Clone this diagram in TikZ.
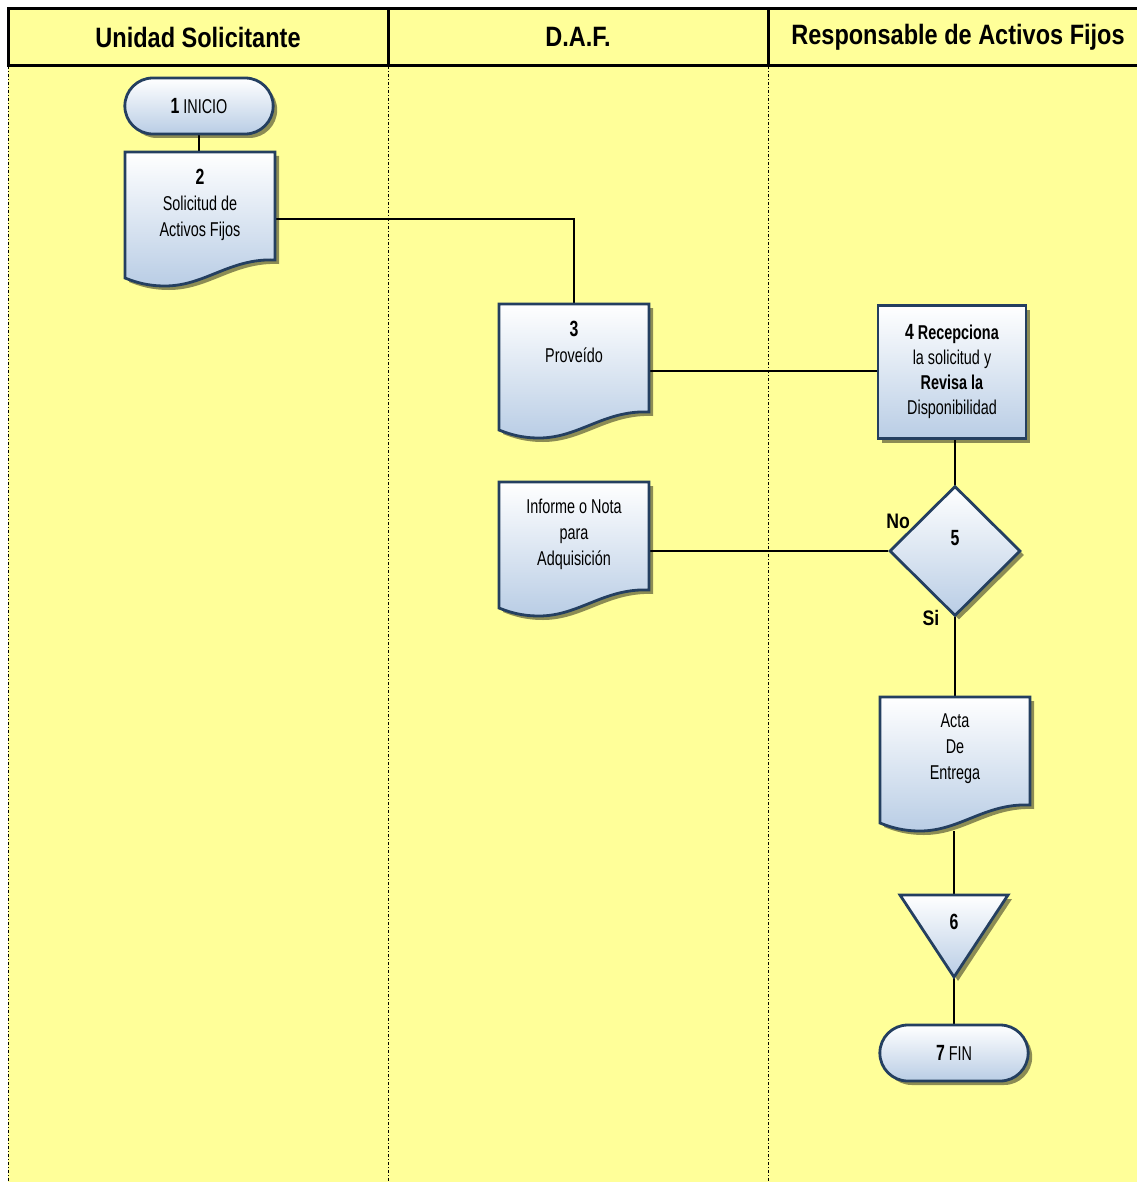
\documentclass[tikz,border=0pt]{standalone}
\usepackage{fontspec}
\setmainfont{Liberation Sans}
\newfontfamily\lanefont[FakeStretch=0.84]{Liberation Sans}
\newfontfamily\stepfont[FakeStretch=0.72]{Liberation Sans}
\usetikzlibrary{shapes.geometric,shapes.misc,shadows}
\definecolor{Lane}{HTML}{FFFF99}
\definecolor{Navy}{HTML}{243F60}
\definecolor{Pale}{HTML}{B9CDE5}
\colorlet{stepLine}{Navy}
\colorlet{stepBottom}{Pale}
\pgfdeclarelayer{lanes}
\pgfdeclarelayer{links}
\pgfdeclarelayer{shapes}
\pgfsetlayers{lanes,links,shapes,main}

% step numbers are set a bit bigger and in bold
\newcommand\stepno[1]{{\fontsize{22}{26}\selectfont\bfseries #1}}
% text of a document symbol, hung from its top edge
\newcommand\doclines[1]{\parbox[c][134pt][t]{150pt}{\centering\vspace*{17pt}#1}}
% document symbol with a wavy bottom, #1,#2 = top left corner
\newcommand\docshape[2]{%
 \begin{pgfonlayer}{shapes}
 \begin{scope}[shift={(#1,#2)}]
  \path[face] (0,0) -- (150,0) -- (150,108)
   .. controls (105,106) and (80,134) .. (40,134)
   .. controls (22,134) and (10,130) .. (0,126) -- cycle;
 \end{scope}
 \end{pgfonlayer}}

\begin{document}
\begin{tikzpicture}[x=1pt,y=-1pt,
 face/.style={draw=stepLine,line width=2.8pt,top color=white,bottom color=stepBottom,
   drop shadow={shadow xshift=4pt,shadow yshift=-4pt,fill=black,opacity=.45}},
 terminal/.style={face,rounded rectangle,minimum width=155pt,minimum height=56pt,
   font=\stepfont\fontsize{20}{26}\selectfont},
 process/.style={face,rectangle,minimum width=148pt,minimum height=133pt,align=center,
   inner sep=0pt,font=\stepfont\fontsize{20}{25}\selectfont},
 decision/.style={face,diamond,minimum width=131pt,minimum height=130pt,inner sep=0pt,
   font=\stepfont\fontsize{20}{26}\selectfont},
 doctext/.style={inner sep=0pt,font=\stepfont\fontsize{20}{26}\selectfont},
 mergetext/.style={inner sep=0pt,minimum width=108pt,minimum height=82pt,
   font=\stepfont\fontsize{20}{26}\selectfont},
 lanehead/.style={font=\lanefont\bfseries\fontsize{28}{30}\selectfont},
 branch/.style={font=\lanefont\bfseries\fontsize{21}{24}\selectfont,inner sep=0pt},
 headline/.style={line width=3pt,black},
 lanesep/.style={line width=1pt,black,dash dot},
 link/.style={line width=2.4pt,black}]
 \useasboundingbox (0,0) rectangle (1136,1182);

 % swimlanes
 \begin{pgfonlayer}{lanes}
 \fill[Lane] (8,9) rectangle (1150,1190);
 \foreach \x in {8,388,768}
  \draw[lanesep] (\x,66) -- (\x,1190);
 \draw[headline] (8,9) rectangle (1150,66);
 \draw[headline] (388,9) -- (388,66) (768,9) -- (768,66);
 \end{pgfonlayer}
 \node[lanehead] (us) at (198,37) {Unidad Solicitante};
 \node[lanehead] (daf) at (578,37) {D.A.F.};
 \node[lanehead] (raf) at (958,37) {Responsable de Activos Fijos};

 % steps
 \node[terminal] (n1) at (199,106) {\stepno{1} INICIO};
 \docshape{125}{152}
 \node[doctext] (n2) at (200,219) {\doclines{\stepno{2}\\Solicitud de\\Activos Fijos}};
 \docshape{499}{304}
 \node[doctext] (n3) at (574,371) {\doclines{\stepno{3}\\Proveído}};
 \node[process] (n4) at (952,372) {\stepno{4} \textbf{Recepciona}\\la solicitud y\\
   \textbf{Revisa la}\\Disponibilidad};
 \node[decision] (n5) at (955,551) {\raisebox{6pt}[0pt][0pt]{\stepno{5}}};
 \node[branch] (no) at ([xshift=10pt,yshift=30pt]n5.west) {No};
 \node[branch] (si) at ([xshift=-24pt,yshift=-1pt]n5.south) {Si};
 \docshape{499}{482}
 \node[doctext] (inf) at (574,549) {\doclines{Informe o Nota\\para\\Adquisición}};
 \docshape{880}{697}
 \node[doctext] (acta) at (955,764) {\doclines{Acta\\De\\Entrega}};
 \begin{pgfonlayer}{shapes}
 \path[face] (900,895) -- (1008,895) -- (954,977) -- cycle;
 \end{pgfonlayer}
 \node[mergetext] (n6) at (954,936) {\raisebox{7pt}[0pt][0pt]{\stepno{6}}};
 \node[terminal] (n7) at (954,1053) {\stepno{7} FIN};

 % connectors
 \begin{pgfonlayer}{links}
 \draw[link] (n1.south) -- (n1.south |- n2.north);
 \draw[link] (n2.east) -| (n3.north);
 \draw[link] (n3.east) -- (n3.east -| n4.west);
 \draw[link] (n5.north) -- (n5.north |- n4.south);
 \draw[link] (n5.west) -- (n5.west -| inf.east);
 \draw[link] (n5.south) -- (acta.north);
 \draw[link] (n6.north |- acta.south) -- (n6.north);
 \draw[link] (n6.south) -- (n7.north);
 \end{pgfonlayer}
\end{tikzpicture}
\end{document}
